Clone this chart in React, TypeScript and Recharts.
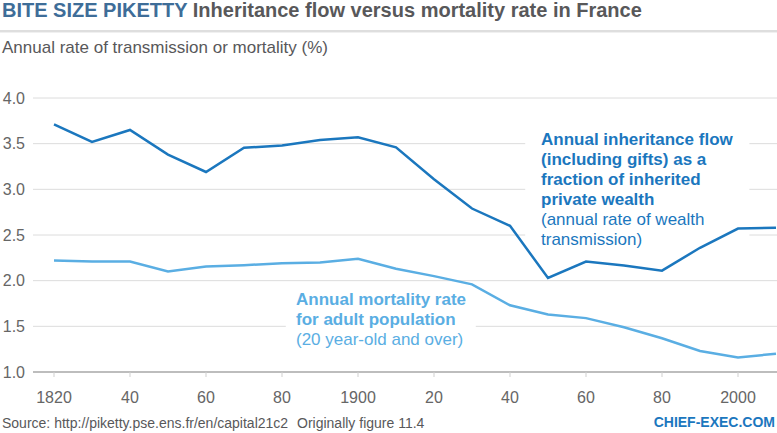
import { LineChart, Line, XAxis, YAxis, CartesianGrid, ReferenceArea } from 'recharts'

const years = [1820, 1830, 1840, 1850, 1860, 1870, 1880, 1890, 1900, 1910, 1920, 1930, 1940, 1950, 1960, 1970, 1980, 1990, 2000, 2010]
const inheritanceFlow = [3.71, 3.52, 3.65, 3.38, 3.19, 3.455, 3.48, 3.54, 3.57, 3.46, 3.11, 2.79, 2.60, 2.03, 2.21, 2.165, 2.11, 2.36, 2.57, 2.58]
const mortalityRate = [2.22, 2.21, 2.21, 2.10, 2.155, 2.17, 2.19, 2.20, 2.24, 2.13, 2.05, 1.96, 1.73, 1.63, 1.59, 1.49, 1.37, 1.23, 1.16, 1.20]
const xTicks = [1820, 1840, 1860, 1880, 1900, 1920, 1940, 1960, 1980, 2000]
const yTicks = [1.0, 1.5, 2.0, 2.5, 3.0, 3.5, 4.0]

const DARK = '#1b77be'
const LIGHT = '#5aaee3'

const data = years.map((year, i) => ({
  year,
  inheritance: inheritanceFlow[i],
  mortality: mortalityRate[i],
}))

// full year at 1820 and at each century, two digits otherwise
const fmtYear = (y: number) => (y === xTicks[0] || y % 100 === 0 ? String(y) : String(y).slice(2))

export default function App() {
  return (
    <div style={{
      position: 'fixed', left: 0, top: 0, width: 777, height: 433, background: '#fff',
      fontFamily: '"Liberation Sans", Arial, sans-serif', overflow: 'hidden',
    }}>
      <div style={{ position: 'absolute', left: 2, top: -1, fontSize: 20, fontWeight: 700, color: '#58585a', whiteSpace: 'nowrap' }}>
        <span style={{ color: '#3e6d98' }}>BITE SIZE PIKETTY</span> Inheritance flow versus mortality rate in France
      </div>
      <div style={{ position: 'absolute', left: 0, top: 30, width: 777, height: 2, background: '#dedede' }} />
      <div style={{ position: 'absolute', left: 0, top: 32, width: 777, height: 1, background: '#f0f0f0' }} />
      <div style={{ position: 'absolute', left: 2, top: 38, fontSize: 17, color: '#58585a', whiteSpace: 'nowrap' }}>
        Annual rate of transmission or mortality (%)
      </div>

      <LineChart width={777} height={433} data={data} margin={{ top: 98, right: 0, bottom: 31, left: 0 }}>
        <CartesianGrid vertical={false} stroke="#dcdcdc" strokeWidth={1} />
        <ReferenceArea x1={1944} x2={2003} y1={2.42} y2={3.66} fill="#fff" fillOpacity={1} stroke="none" ifOverflow="visible" />
        <ReferenceArea x1={1881} x2={1931} y1={1.25} y2={1.9} fill="#fff" fillOpacity={1} stroke="none" ifOverflow="visible" />
        <XAxis
          dataKey="year"
          type="number"
          domain={[1820, 2010]}
          ticks={xTicks}
          tickFormatter={fmtYear}
          padding={{ left: 21, right: 1 }}
          height={30}
          axisLine={{ stroke: '#bdbdbd', strokeWidth: 2 }}
          tickLine={{ stroke: '#cfcfcf' }}
          tickSize={5}
          tickMargin={15}
          tick={{ fill: '#666', fontSize: 16 }}
        />
        <YAxis
          type="number"
          domain={[1, 4]}
          ticks={yTicks}
          tickFormatter={(v: number) => v.toFixed(1)}
          width={33}
          axisLine={false}
          tickLine={false}
          tickSize={0}
          tickMargin={8}
          tick={{ fill: '#666', fontSize: 16 }}
        />
        <Line type="linear" dataKey="mortality" stroke={LIGHT} strokeWidth={2.5} dot={false} isAnimationActive={false} />
        <Line type="linear" dataKey="inheritance" stroke={DARK} strokeWidth={2.5} dot={false} isAnimationActive={false} />
      </LineChart>

      <div style={{ position: 'absolute', left: 541, top: 130, fontSize: 17, lineHeight: '20px', color: DARK, whiteSpace: 'nowrap' }}>
        <div style={{ fontWeight: 700 }}>Annual inheritance flow</div>
        <div style={{ fontWeight: 700 }}>(including gifts) as a</div>
        <div style={{ fontWeight: 700 }}>fraction of inherited</div>
        <div style={{ fontWeight: 700 }}>private wealth</div>
        <div>(annual rate of wealth</div>
        <div>transmission)</div>
      </div>

      <div style={{ position: 'absolute', left: 296, top: 290, fontSize: 17, lineHeight: '20px', color: LIGHT, whiteSpace: 'nowrap' }}>
        <div style={{ fontWeight: 700 }}>Annual mortality rate</div>
        <div style={{ fontWeight: 700 }}>for adult population</div>
        <div>(20 year-old and over)</div>
      </div>

      <div style={{ position: 'absolute', left: 2, top: 415, fontSize: 14, color: '#58585a', whiteSpace: 'nowrap' }}>
        Source: http://piketty.pse.ens.fr/en/capital21c2
      </div>
      <div style={{ position: 'absolute', left: 297, top: 415, fontSize: 14, color: '#58585a', whiteSpace: 'nowrap' }}>
        Originally figure 11.4
      </div>
      <div style={{ position: 'absolute', right: 2, top: 414, fontSize: 14, fontWeight: 700, color: '#1b77be', whiteSpace: 'nowrap' }}>
        CHIEF-EXEC.COM
      </div>
    </div>
  )
}
